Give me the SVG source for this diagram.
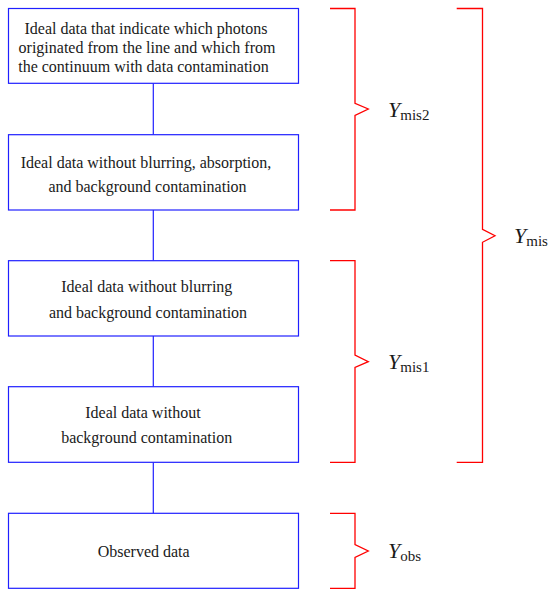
<svg xmlns="http://www.w3.org/2000/svg" width="550" height="589" viewBox="0 0 550 589">
<style>
.box{fill:#fff;stroke:#2020ff;stroke-width:1.2}
.con{stroke:#2020ff;stroke-width:1.2;fill:none}
.brace{stroke:#ff0000;stroke-width:1.3;fill:none}
.t{font-family:"Liberation Serif","Times New Roman",serif;font-size:16px;fill:#1a1a1a;text-anchor:middle}
.y{font-family:"Liberation Serif","Times New Roman",serif;font-size:22px;font-style:italic;fill:#1a1a1a}
.s{font-style:normal;font-size:15px}
</style>
<rect width="550" height="589" fill="#fff"/>
<g id="connectors">
<line class="con" x1="153.3" y1="83.3" x2="153.3" y2="134.7"/>
<line class="con" x1="153.3" y1="210" x2="153.3" y2="260.7"/>
<line class="con" x1="153.3" y1="336" x2="153.3" y2="386.7"/>
<line class="con" x1="153.3" y1="462.3" x2="153.3" y2="513.3"/>
</g>
<g id="node1">
<rect class="box" x="8.5" y="8.5" width="290" height="74.8"/>
<text class="t" x="146" y="34.3">Ideal data that indicate which photons</text>
<text class="t" x="147" y="53.3">originated from the line and which from</text>
<text class="t" x="143.5" y="71.7">the continuum with data contamination</text>
</g>
<g id="node2">
<rect class="box" x="8.5" y="134.7" width="290" height="75.3"/>
<text class="t" x="146" y="168">Ideal data without blurring, absorption,</text>
<text class="t" x="147.5" y="191.7">and background contamination</text>
</g>
<g id="node3">
<rect class="box" x="8.5" y="260.7" width="290" height="75.3"/>
<text class="t" x="146.8" y="291.7">Ideal data without blurring</text>
<text class="t" x="148" y="317.7">and background contamination</text>
</g>
<g id="node4">
<rect class="box" x="8.5" y="386.7" width="290" height="75.6"/>
<text class="t" x="143" y="418.3">Ideal data without</text>
<text class="t" x="146.7" y="443.3">background contamination</text>
</g>
<g id="node5">
<rect class="box" x="8.5" y="513.3" width="290" height="75"/>
<text class="t" x="143.7" y="556.7">Observed data</text>
</g>
<g id="braces">
<path class="brace" d="M330,8.5 H355 V103.3 L368.3,109 L355,115.5 V210 H330"/>
<path class="brace" d="M456.7,8.5 H482.5 V229.3 L495,235.7 L482.5,242.3 V462.3 H456.7"/>
<path class="brace" d="M330,260.7 H355 V355 L368.3,361.7 L355,367.5 V462.3 H330"/>
<path class="brace" d="M330,513.3 H355 V544.5 L368.3,551 L355,557.3 V588.5 H330"/>
</g>
<g id="labels">
<text class="y" x="388" y="116.7">Y<tspan class="s" dy="3">mis2</tspan></text>
<text class="y" x="514" y="242.5">Y<tspan class="s" dy="3">mis</tspan></text>
<text class="y" x="388" y="369">Y<tspan class="s" dy="3">mis1</tspan></text>
<text class="y" x="388" y="558.3">Y<tspan class="s" dy="3">obs</tspan></text>
</g>
</svg>
